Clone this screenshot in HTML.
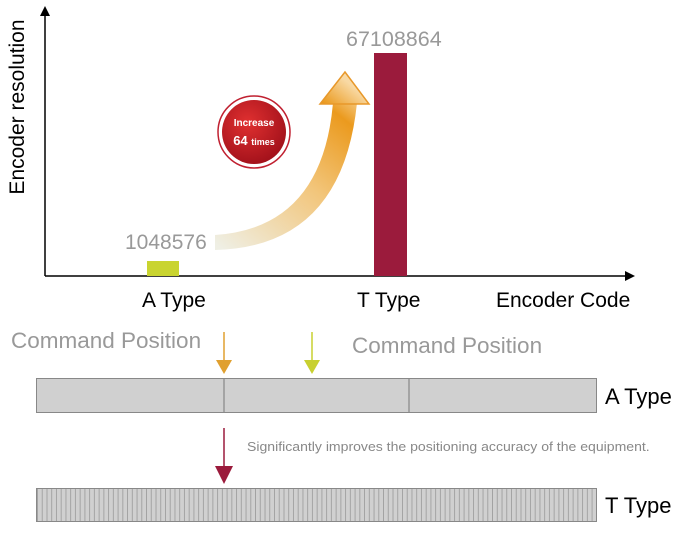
<!DOCTYPE html>
<html><head><style>
body{margin:0;width:681px;height:538px;background:#fff;overflow:hidden;position:relative;font-family:"Liberation Sans",sans-serif}
.t{position:absolute;white-space:nowrap}
</style></head><body>
<svg width="681" height="538" style="position:absolute;left:0;top:0">
<defs>
<linearGradient id="g" x1="215" y1="243" x2="345" y2="80" gradientUnits="userSpaceOnUse">
<stop offset="0" stop-color="#efefe4"/><stop offset="0.5" stop-color="#f2c57a"/><stop offset="0.85" stop-color="#eb9a1e"/><stop offset="1" stop-color="#f8d9a4"/></linearGradient>
<radialGradient id="r" cx="0.4" cy="0.35" r="0.7"><stop offset="0" stop-color="#e03030"/><stop offset="1" stop-color="#a0101a"/></radialGradient>
<pattern id="s" x="37" y="0" width="4.74" height="10" patternUnits="userSpaceOnUse"><line x1="0.5" y1="0" x2="0.5" y2="10" stroke="#999" stroke-width="0.8"/></pattern>
</defs>
<line x1="45" y1="276" x2="45" y2="14" stroke="#000" stroke-width="1.5"/>
<polygon points="45,6 40,16 50,16" fill="#000"/>
<line x1="45" y1="276" x2="626" y2="276" stroke="#000" stroke-width="1.5"/>
<polygon points="635,276 625,271 625,281" fill="#000"/>
<rect x="147" y="261" width="32" height="15" fill="#c9d430"/>
<rect x="374" y="53" width="33" height="223" fill="#9b1b3c"/>
<path d="M215,235 Q322,228 333,103 L357,103 Q342,247 215,250 Z" fill="url(#g)"/>
<polygon points="345,72 320,104 369,104" fill="url(#g)" stroke="#e8982a" stroke-width="1.5"/>
<circle cx="254" cy="132" r="36" fill="#fff" stroke="#c02030" stroke-width="1.5"/>
<circle cx="254" cy="132" r="32" fill="url(#r)"/>
<text x="254" y="126" font-size="10" font-weight="bold" fill="#fff" text-anchor="middle" font-family="Liberation Sans">Increase</text>
<text x="254" y="145" font-size="13" font-weight="bold" fill="#fff" text-anchor="middle" font-family="Liberation Sans">64 <tspan font-size="9">times</tspan></text>
<rect x="36.5" y="378.5" width="560" height="34" fill="#d0d0d0" stroke="#888"/>
<line x1="224" y1="379" x2="224" y2="412" stroke="#777"/>
<line x1="409" y1="379" x2="409" y2="412" stroke="#777"/>
<line x1="224" y1="332" x2="224" y2="362" stroke="#e0a030" stroke-width="1.5"/>
<polygon points="216,360 232,360 224,374" fill="#e0a030"/>
<line x1="312" y1="332" x2="312" y2="362" stroke="#c8d030" stroke-width="1.5"/>
<polygon points="304,360 320,360 312,374" fill="#c8d030"/>
<line x1="224" y1="428" x2="224" y2="468" stroke="#9b1b3c" stroke-width="1.5"/>
<polygon points="215,466 233,466 224,484" fill="#9b1b3c"/>
<rect x="36.5" y="488.5" width="560" height="33" fill="#d0d0d0" stroke="#888"/>
<rect x="37" y="489" width="559" height="32" fill="url(#s)"/>
</svg>
<div class="t" style="left:-82px;top:95px;width:200px;text-align:center;font-size:21px;transform:rotate(-90deg)">Encoder resolution</div>
<div class="t" style="left:125px;top:231px;font-size:21px;color:#999">1048576</div>
<div class="t" style="left:346px;top:27px;font-size:21.5px;color:#999">67108864</div>
<div class="t" style="left:142px;top:289px;font-size:21px">A Type</div>
<div class="t" style="left:357px;top:289px;font-size:21px">T Type</div>
<div class="t" style="left:496px;top:289px;font-size:21px">Encoder Code</div>
<div class="t" style="left:11px;top:328px;font-size:22.5px;color:#999">Command Position</div>
<div class="t" style="left:352px;top:333px;font-size:22.5px;color:#999">Command Position</div>
<div class="t" style="left:605px;top:384px;font-size:22px">A Type</div>
<div class="t" style="left:247px;top:439px;font-size:13px;color:#888;transform:scaleX(1.08);transform-origin:left">Significantly improves the positioning accuracy of the equipment.</div>
<div class="t" style="left:605px;top:493px;font-size:22px">T Type</div>
</body></html>
